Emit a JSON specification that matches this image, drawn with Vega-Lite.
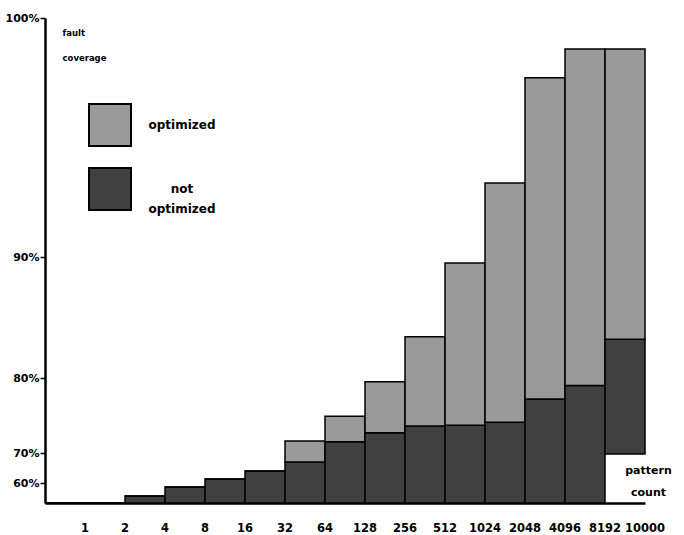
{
  "$schema": "https://vega.github.io/schema/vega-lite/v6.json",
  "autosize": {"type": "none"},
  "width": 600,
  "height": 485,
  "padding": {"left": 45, "top": 18, "right": 39, "bottom": 32},
  "background": "white",
  "config": {
    "view": {"stroke": null},
    "font": "DejaVu Sans"
  },
  "data": {
    "values": [
      {"n": "1", "series": "not optimized", "lo": 50, "hi": 50},
      {"n": "1", "series": "optimized", "lo": 50, "hi": 50},
      {"n": "2", "series": "not optimized", "lo": 50, "hi": 50},
      {"n": "2", "series": "optimized", "lo": 50, "hi": 50},
      {"n": "4", "series": "not optimized", "lo": 50, "hi": 53.5},
      {"n": "4", "series": "optimized", "lo": 53.5, "hi": 53.5},
      {"n": "8", "series": "not optimized", "lo": 50, "hi": 58},
      {"n": "8", "series": "optimized", "lo": 58, "hi": 58},
      {"n": "16", "series": "not optimized", "lo": 50, "hi": 61.3},
      {"n": "16", "series": "optimized", "lo": 61.3, "hi": 61.3},
      {"n": "32", "series": "not optimized", "lo": 50, "hi": 64},
      {"n": "32", "series": "optimized", "lo": 64, "hi": 64},
      {"n": "64", "series": "not optimized", "lo": 50, "hi": 67},
      {"n": "64", "series": "optimized", "lo": 67, "hi": 71.6},
      {"n": "128", "series": "not optimized", "lo": 50, "hi": 71.5},
      {"n": "128", "series": "optimized", "lo": 71.5, "hi": 74.9},
      {"n": "256", "series": "not optimized", "lo": 50, "hi": 72.7},
      {"n": "256", "series": "optimized", "lo": 72.7, "hi": 79.5},
      {"n": "512", "series": "not optimized", "lo": 50, "hi": 73.6},
      {"n": "512", "series": "optimized", "lo": 73.6, "hi": 83.4},
      {"n": "1024", "series": "not optimized", "lo": 50, "hi": 73.7},
      {"n": "1024", "series": "optimized", "lo": 73.7, "hi": 89.5},
      {"n": "2048", "series": "not optimized", "lo": 50, "hi": 74.1},
      {"n": "2048", "series": "optimized", "lo": 74.1, "hi": 93.1},
      {"n": "4096", "series": "not optimized", "lo": 50, "hi": 77.2},
      {"n": "4096", "series": "optimized", "lo": 77.2, "hi": 97.5},
      {"n": "8192", "series": "not optimized", "lo": 50, "hi": 79.0},
      {"n": "8192", "series": "optimized", "lo": 79.0, "hi": 98.7},
      {"n": "10000", "series": "not optimized", "lo": 69.7, "hi": 83.2},
      {"n": "10000", "series": "optimized", "lo": 83.2, "hi": 98.7}
    ]
  },
  "mark": {"type": "bar", "stroke": "black", "strokeWidth": 1.5},
  "encoding": {
    "x": {
      "field": "n",
      "type": "ordinal",
      "sort": null,
      "scale": {"paddingInner": 0, "paddingOuter": 0},
      "axis": {
        "title": ["pattern", "count"],
        "titleFont": "DejaVu Sans",
        "titleFontSize": 11,
        "titleFontWeight": "bold",
        "titleAngle": 0,
        "titleAlign": "center",
        "titleBaseline": "middle",
        "titleX": 603,
        "titleY": -33,
        "titleLineHeight": 22,
        "labelAngle": 0,
        "labelOffset": 20,
        "labelPadding": 19,
        "labelFont": "DejaVu Sans",
        "labelFontSize": 11.5,
        "labelFontWeight": "bold",
        "labelColor": "black",
        "ticks": false,
        "tickSize": 0,
        "domainColor": "black",
        "domainWidth": 2.5,
        "grid": false
      }
    },
    "y": {
      "field": "hi",
      "type": "quantitative",
      "scale": {
        "domain": [50, 60, 70, 80, 90, 100],
        "range": [485, 465, 435, 360, 239, 0],
        "nice": false,
        "zero": false
      },
      "axis": {
        "values": [60, 70, 80, 90, 100],
        "labelExpr": "datum.value + '%'",
        "title": ["fault", "coverage"],
        "titleFont": "DejaVu Sans",
        "titleFontSize": 8.5,
        "titleFontWeight": "bold",
        "titleAngle": 0,
        "titleAlign": "left",
        "titleBaseline": "top",
        "titleX": 17,
        "titleY": 10,
        "titleLineHeight": 25,
        "labelFont": "DejaVu Sans",
        "labelFontSize": 11,
        "labelFontWeight": "bold",
        "labelColor": "black",
        "labelPadding": 1,
        "tickSize": 5,
        "tickColor": "black",
        "tickWidth": 1.5,
        "domainColor": "black",
        "domainWidth": 2.5,
        "grid": false
      }
    },
    "y2": {"field": "lo"},
    "fill": {
      "field": "series",
      "type": "nominal",
      "scale": {"domain": ["optimized", "not optimized"], "range": ["#9a9a9a", "#404040"]},
      "legend": {
        "title": null,
        "orient": "none",
        "legendX": 43,
        "legendY": 85,
        "padding": 0,
        "symbolType": "square",
        "symbolSize": 1764,
        "symbolStrokeColor": "black",
        "symbolStrokeWidth": 2,
        "symbolOpacity": 1,
        "rowPadding": 14,
        "labelFont": "DejaVu Sans",
        "labelFontSize": 12,
        "labelFontWeight": "bold",
        "labelColor": "black",
        "labelAlign": "center",
        "labelOffset": 50,
        "labelExpr": "datum.label == 'not optimized' ? ['not', 'optimized'] : datum.label",
        "encode": {"labels": {"update": {"lineHeight": {"value": 20}}}}
      }
    }
  }
}
